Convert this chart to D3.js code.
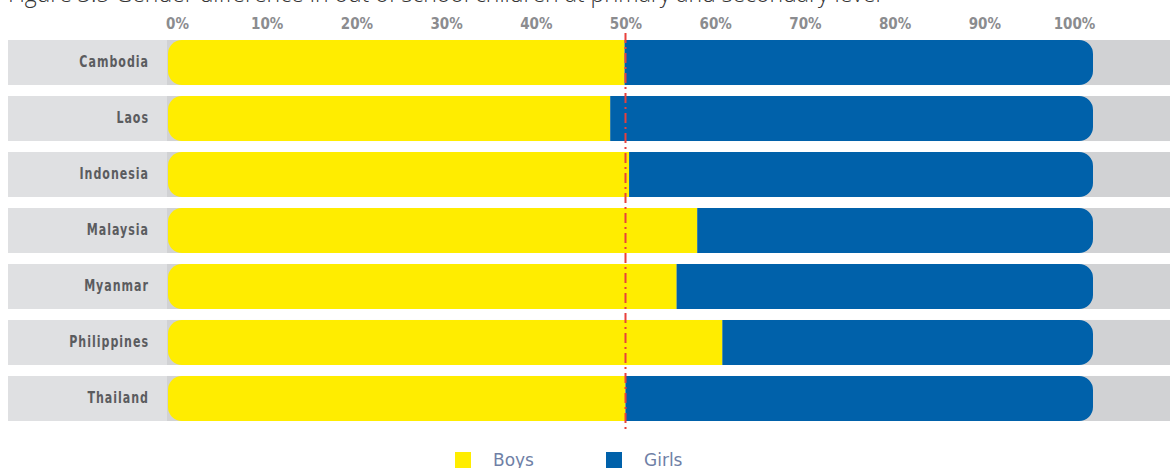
<!DOCTYPE html>
<html>
<head>
<meta charset="utf-8">
<script src="https://cdn.jsdelivr.net/npm/d3@7"></script>
<style>
  body { margin: 0; background: #fff; }
  svg { display: block; }
</style>
</head>
<body>
<div id="chart"></div>
<script>
// DATA
const countries = ["Cambodia", "Laos", "Indonesia", "Malaysia", "Myanmar", "Philippines", "Thailand"];
const boys = [49.9, 48.3, 50.4, 58.0, 55.7, 60.8, 50.0];
const girls = [50.1, 51.7, 49.6, 42.0, 44.3, 39.2, 50.0];
const ticks = [0, 10, 20, 30, 40, 50, 60, 70, 80, 90, 100];
const seriesNames = ["Boys", "Girls"];
const seriesColors = ["#ffed00", "#0061aa"];

const width = 1170, height = 468;
const condensed = "'DejaVu Sans Condensed', 'DejaVu Sans', sans-serif";

const svg = d3.select("#chart")
  .append("svg")
  .attr("width", width)
  .attr("height", height);

// SCALES
const x = d3.scaleLinear().domain([0, 100]).range([177, 1074]);
const y = d3.scaleBand().domain(countries).range([40, 421]).paddingInner(0.196).paddingOuter(0);

// TITLE (cut off at the top)
svg.append("text")
  .attr("x", 8)
  .attr("y", 2)
  .attr("font-family", "Open Sans")
  .attr("font-weight", 300)
  .attr("font-size", "23px")
  .attr("fill", "#333")
  .text("Figure 3.5 Gender difference in out of school children at primary and secondary level");

// TICK LABELS
svg.append("g")
  .attr("transform", "translate(0,29)")
  .call(d3.axisTop(x).tickValues(ticks).tickFormat(d => d + "%").tickSize(0).tickPadding(0))
  .call(g => g.select(".domain").remove())
  .call(g => g.selectAll("text")
    .attr("font-family", condensed)
    .attr("font-weight", "bold")
    .attr("font-size", "15px")
    .attr("fill", "#8b8c8f"));

const rows = svg.append("g").selectAll("g")
  .data(countries)
  .join("g")
  .attr("transform", d => `translate(0,${y(d)})`);

// row backgrounds
rows.append("rect")
  .attr("x", 8).attr("width", 160)
  .attr("height", y.bandwidth())
  .attr("fill", "#dfe0e2");
rows.append("rect")
  .attr("x", 167).attr("width", width - 167)
  .attr("height", y.bandwidth())
  .attr("fill", "#d1d2d4");

// row labels (squeezed horizontally to mimic a condensed face)
rows.append("text")
  .attr("transform", `translate(149,${y.bandwidth() / 2 - 1}) scale(0.82,1)`)
  .attr("dy", "0.36em")
  .attr("text-anchor", "end")
  .attr("font-family", condensed)
  .attr("font-weight", "bold")
  .attr("font-size", "15px")
  .attr("letter-spacing", "1.2px")
  .attr("fill", "#5b5c5f")
  .text(d => d);

// bars: boys segment rounded on the left, girls segment rounded on the right
const r = 14;
const x0 = x(0) - 9, x1 = x(100) + 19;
const h = y.bandwidth();
rows.append("path")
  .attr("fill", seriesColors[0])
  .attr("d", (d, i) => {
    const xe = x(boys[i]);
    return `M${x0 + r},0 H${xe} V${h} H${x0 + r} A${r},${r} 0 0 1 ${x0},${h - r} V${r} A${r},${r} 0 0 1 ${x0 + r},0 Z`;
  });
rows.append("path")
  .attr("fill", seriesColors[1])
  .attr("d", (d, i) => {
    const xs = x(boys[i]);
    return `M${xs},0 H${x1 - r} A${r},${r} 0 0 1 ${x1},${r} V${h - r} A${r},${r} 0 0 1 ${x1 - r},${h} H${xs} Z`;
  });

// 50% reference line
svg.append("line")
  .attr("x1", x(50)).attr("x2", x(50))
  .attr("y1", 33).attr("y2", 432)
  .attr("stroke", "#e8413c")
  .attr("stroke-width", 2)
  .attr("stroke-dasharray", "10,4,2,4");

// LEGEND
const legend = svg.append("g").selectAll("g")
  .data(seriesNames)
  .join("g")
  .attr("transform", (d, i) => `translate(${455 + i * 151},452)`);
legend.append("rect")
  .attr("width", 16).attr("height", 16)
  .attr("fill", (d, i) => seriesColors[i]);
legend.append("text")
  .attr("x", 38).attr("y", 14)
  .attr("font-family", "DejaVu Sans")
  .attr("font-size", "17px")
  .attr("fill", "#6f7fa6")
  .text(d => d);
</script>
</body>
</html>
